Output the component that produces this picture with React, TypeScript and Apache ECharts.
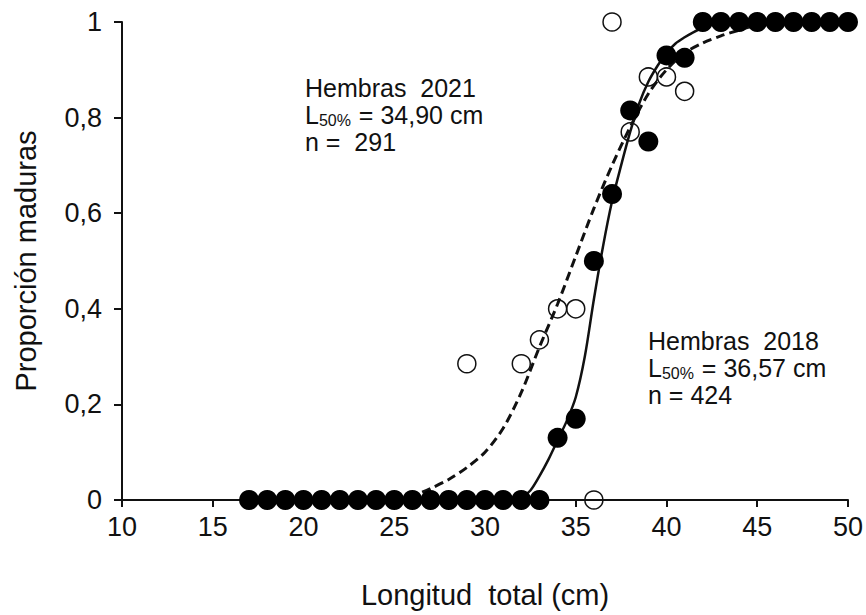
import React, { useEffect, useRef } from "react";
import * as echarts from "echarts";

// Observed proportions (Hembras 2018, filled circles)
const lengths2018 = [17, 18, 19, 20, 21, 22, 23, 24, 25, 26, 27, 28, 29, 30, 31, 32, 33, 34, 35, 36, 37, 38, 39, 40, 41, 42, 43, 44, 45, 46, 47, 48, 49, 50];
const mature2018 = [0, 0, 0, 0, 0, 0, 0, 0, 0, 0, 0, 0, 0, 0, 0, 0, 0, 0.13, 0.17, 0.5, 0.64, 0.815, 0.75, 0.93, 0.925, 1, 1, 1, 1, 1, 1, 1, 1, 1];

// Observed proportions (Hembras 2021, open circles)
const lengths2021 = [29, 32, 33, 34, 35, 36, 37, 38, 39, 40, 41];
const mature2021 = [0.285, 0.285, 0.335, 0.4, 0.4, 0, 1, 0.77, 0.885, 0.885, 0.855];

// Fitted ogive 2018 (solid)
const fit2018X = [31.8, 32, 32.5, 33, 33.5, 34, 34.5, 35, 35.5, 36, 36.5, 37, 37.5, 38, 38.5, 39, 39.5, 40, 40.5, 41, 41.5, 42, 42.5];
const fit2018Y = [0, 0.005, 0.02, 0.05, 0.085, 0.125, 0.165, 0.215, 0.3, 0.42, 0.53, 0.625, 0.7, 0.77, 0.83, 0.875, 0.908, 0.935, 0.955, 0.968, 0.979, 0.988, 0.995];

// Fitted ogive 2021 (dashed)
const fit2021X = [25.8, 26.5, 27, 28, 29, 30, 31, 32, 33, 34, 35, 36, 37, 38, 39, 40, 41, 42, 43, 44, 44.6];
const fit2021Y = [0.008, 0.016, 0.024, 0.043, 0.068, 0.1, 0.15, 0.225, 0.32, 0.41, 0.51, 0.61, 0.7, 0.78, 0.85, 0.9, 0.935, 0.956, 0.971, 0.983, 0.99];

const xTicks = [10, 15, 20, 25, 30, 35, 40, 45, 50];
const yTicks = [0, 0.2, 0.4, 0.6, 0.8, 1];

const FONT = "Liberation Sans, Arial, sans-serif";
const INK = "#111111";

const zip = (xs: number[], ys: number[]) => xs.map((x, i) => [x, ys[i]]);

export default function App() {
  const ref = useRef<HTMLDivElement>(null);

  useEffect(() => {
    if (!ref.current) return;
    const chart = echarts.init(ref.current, undefined, { renderer: "svg" });

    const annotation = (left: number, top: number, year: string, l50: string, n: string) => ({
      type: "text",
      left,
      top,
      z: 10,
      style: {
        text: `{a|Hembras  ${year}}\n{a|L}{s|50%}{a| = ${l50} cm}\n{a|${n}}`,
        fill: INK,
        rich: {
          a: { fontSize: 25, fontFamily: FONT, fill: INK, color: INK, lineHeight: 27 },
          s: { fontSize: 16, fontFamily: FONT, fill: INK, color: INK, lineHeight: 27, verticalAlign: "bottom", padding: [7, 1, 0, 0] },
        },
      },
    });

    chart.setOption({
      animation: false,
      backgroundColor: "#ffffff",
      grid: { left: 122, right: 18, top: 22, bottom: 115, containLabel: false },
      xAxis: {
        type: "value",
        min: xTicks[0],
        max: xTicks[xTicks.length - 1],
        interval: 5,
        name: "Longitud  total (cm)",
        nameLocation: "middle",
        nameGap: 80,
        nameTextStyle: { fontSize: 29, fontFamily: FONT, color: INK },
        axisLine: { onZero: false, lineStyle: { color: INK, width: 2 } },
        axisTick: { show: true, inside: false, length: 7, lineStyle: { color: INK, width: 2 } },
        axisLabel: { fontSize: 27, fontFamily: FONT, color: INK, margin: 13 },
        splitLine: { show: false },
      },
      yAxis: {
        type: "value",
        min: yTicks[0],
        max: yTicks[yTicks.length - 1],
        interval: 0.2,
        name: "Proporción maduras",
        nameLocation: "middle",
        nameGap: 82,
        nameTextStyle: { fontSize: 29, fontFamily: FONT, color: INK },
        axisLine: { show: true, lineStyle: { color: INK, width: 2 } },
        axisTick: { show: true, inside: false, length: 8, lineStyle: { color: INK, width: 2 } },
        axisLabel: {
          fontSize: 27,
          fontFamily: FONT,
          color: INK,
          margin: 20,
          formatter: (v: number) => String(Math.round(v * 10) / 10).replace(".", ","),
        },
        splitLine: { show: false },
      },
      series: [
        {
          name: "Ajuste 2021",
          type: "line",
          data: zip(fit2021X, fit2021Y),
          smooth: 0.3,
          showSymbol: false,
          symbol: "none",
          lineStyle: { color: INK, width: 3, type: [9, 5] },
          z: 2,
        },
        {
          name: "Ajuste 2018",
          type: "line",
          data: zip(fit2018X, fit2018Y),
          smooth: 0.3,
          showSymbol: false,
          symbol: "none",
          lineStyle: { color: INK, width: 2.5 },
          z: 2,
        },
        {
          name: "Hembras 2018",
          type: "scatter",
          data: zip(lengths2018, mature2018),
          symbol: "circle",
          symbolSize: 20,
          itemStyle: { color: "#000000", opacity: 1 },
          z: 3,
        },
        {
          name: "Hembras 2021",
          type: "scatter",
          data: zip(lengths2021, mature2021),
          symbol: "circle",
          symbolSize: 18,
          itemStyle: { color: "rgba(255,255,255,0)", borderColor: INK, borderWidth: 1.5, opacity: 1 },
          z: 4,
        },
      ],
      graphic: [
        annotation(305, 75, "2021", "34,90", "n =  291"),
        annotation(648, 328, "2018", "36,57", "n = 424"),
      ],
    });

    return () => chart.dispose();
  }, []);

  return (
    <div
      ref={ref}
      style={{ position: "absolute", left: 0, top: 0, width: 866, height: 615, background: "#fff" }}
    />
  );
}
